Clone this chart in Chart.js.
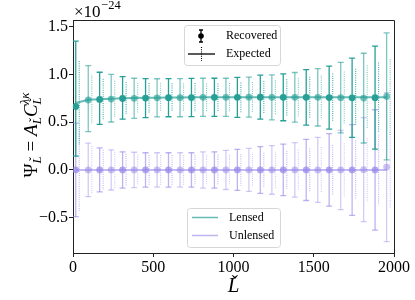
<!DOCTYPE html>
<html>
<head>
<meta charset="utf-8">
<script src="https://cdn.jsdelivr.net/npm/chart.js@4.4.1/dist/chart.umd.min.js"></script>
<style>
html,body{margin:0;padding:0;background:#fff;}
#wrap{width:415px;height:300px;position:relative;}
</style>
</head>
<body>
<div id="wrap"><canvas id="c" width="415" height="300"></canvas></div>
<script>
// ---- data (values in units of 1e-24) ----
const Lbins = [17, 95, 166, 238, 309, 381, 452, 524, 595, 667, 738, 810, 881, 953, 1024, 1096, 1167, 1239, 1310, 1382, 1453, 1525, 1596, 1668, 1739, 1811, 1882, 1954];
const lensedRecovered = [0.664, 0.732, 0.738, 0.742, 0.748, 0.750, 0.752, 0.755, 0.757, 0.757, 0.758, 0.760, 0.760, 0.760, 0.760, 0.762, 0.762, 0.760, 0.760, 0.760, 0.760, 0.760, 0.758, 0.757, 0.755, 0.752, 0.757, 0.770];
const lensedErrUp   = [0.684, 0.36, 0.285, 0.258, 0.228, 0.21, 0.205, 0.20, 0.20, 0.20, 0.20, 0.20, 0.20, 0.20, 0.21, 0.21, 0.23, 0.235, 0.245, 0.26, 0.29, 0.30, 0.33, 0.37, 0.415, 0.47, 0.54, 0.665];
const lensedErrDown = [0.52, 0.33, 0.26, 0.24, 0.215, 0.21, 0.205, 0.20, 0.20, 0.20, 0.20, 0.20, 0.20, 0.20, 0.21, 0.21, 0.23, 0.235, 0.245, 0.26, 0.29, 0.30, 0.33, 0.37, 0.415, 0.47, 0.54, 0.665];
const unlensedRecovered = [0.0, 0.0, 0.0, 0.0, 0.0, 0.0, 0.0, 0.0, 0.0, 0.0, 0.0, 0.0, 0.0, 0.0, 0.0, 0.0, 0.0, 0.0, 0.0, 0.0, 0.0, 0.0, 0.0, 0.0, 0.0, 0.003, 0.0, 0.03];
const unlensedErr = [0.49, 0.28, 0.23, 0.21, 0.19, 0.185, 0.18, 0.18, 0.18, 0.18, 0.18, 0.19, 0.19, 0.205, 0.215, 0.225, 0.245, 0.255, 0.27, 0.285, 0.32, 0.34, 0.38, 0.415, 0.475, 0.545, 0.63, 0.78];
const lensedExpected = [0.70, 0.735, 0.74, 0.745, 0.75, 0.752, 0.755, 0.757, 0.758, 0.758, 0.76, 0.76, 0.76, 0.76, 0.76, 0.76, 0.76, 0.76, 0.76, 0.76, 0.76, 0.76, 0.76, 0.76, 0.76, 0.76, 0.76, 0.76];
const lensedExpErr = [0.44, 0.255, 0.215, 0.19, 0.17, 0.16, 0.155, 0.15, 0.15, 0.15, 0.15, 0.145, 0.145, 0.15, 0.155, 0.16, 0.17, 0.18, 0.19, 0.20, 0.215, 0.23, 0.25, 0.27, 0.30, 0.335, 0.365, 0.40];
const unlensedExpected = [0, 0, 0, 0, 0, 0, 0, 0, 0, 0, 0, 0, 0, 0, 0, 0, 0, 0, 0, 0, 0, 0, 0, 0, 0, 0, 0, 0];
const unlensedExpErr = [0.43, 0.25, 0.21, 0.19, 0.17, 0.16, 0.155, 0.155, 0.155, 0.155, 0.16, 0.16, 0.16, 0.16, 0.165, 0.17, 0.18, 0.19, 0.20, 0.21, 0.225, 0.24, 0.26, 0.28, 0.31, 0.335, 0.37, 0.40];
const yTicks = [-0.5, 0.0, 0.5, 1.0, 1.5];
const xTicks = [0, 500, 1000, 1500, 2000];
const expOffset = 22; // horizontal offset of expected error bars in L units

const TEAL = [38,160,150];
const LAV = [150,132,232];
const rgba = (c,a) => `rgba(${c[0]},${c[1]},${c[2]},${a})`;
const alt = (c, aDark, aLight) => Lbins.map((_, i) => rgba(c, i % 2 === 0 ? aDark : aLight));

const SERIF = '"Liberation Serif", "DejaVu Serif", serif';

// draws an italic L with a check (caron) above, left-aligned at x, baseline y; returns width
function checkL(ctx, x, y, size) {
  ctx.save();
  ctx.textAlign = 'left';
  ctx.textBaseline = 'alphabetic';
  ctx.font = `italic ${size}px ${SERIF}`;
  const w = ctx.measureText('L').width;
  ctx.fillText('L', x, y);
  ctx.font = `${size * 0.9}px ${SERIF}`;
  const cw = ctx.measureText('ˇ').width;
  ctx.fillText('ˇ', x + w * 0.52 - cw / 2 + size * 0.06, y - size * 0.2);
  ctx.restore();
  return w;
}

function errorBarsPlugin() {
  return {
    id: 'errbars',
    beforeDatasetsDraw(chart) {
      const ctx = chart.ctx, xs = chart.scales.x, ys = chart.scales.y;
      const area = chart.chartArea;
      ctx.save();
      ctx.beginPath();
      ctx.rect(area.left, area.top, area.right - area.left, area.bottom - area.top);
      ctx.clip();
      const drawSet = (vals, up, down, col, aDark, aLight, dotted, off) => {
        for (let i = 0; i < Lbins.length; i++) {
          const x = xs.getPixelForValue(Lbins[i] + off);
          const yT = ys.getPixelForValue(vals[i] + up[i]);
          const yB = ys.getPixelForValue(vals[i] - down[i]);
          ctx.strokeStyle = rgba(col, i % 2 === 0 ? aDark : aLight);
          ctx.lineWidth = dotted ? 1.1 : 1.3;
          ctx.setLineDash(dotted ? [1, 1.2] : []);
          ctx.beginPath();
          ctx.moveTo(x, yT); ctx.lineTo(x, yB);
          ctx.stroke();
          if (!dotted) {
            ctx.setLineDash([]);
            ctx.beginPath();
            ctx.moveTo(x - 3, yT); ctx.lineTo(x + 3, yT);
            ctx.moveTo(x - 3, yB); ctx.lineTo(x + 3, yB);
            ctx.stroke();
          }
        }
      };
      // unlensed first, lensed on top
      drawSet(unlensedExpected, unlensedExpErr, unlensedExpErr, LAV, 0.6, 0.45, true, expOffset);
      drawSet(unlensedRecovered, unlensedErr, unlensedErr, LAV, 0.62, 0.42, false, 0);
      drawSet(lensedExpected, lensedExpErr, lensedExpErr, TEAL, 0.85, 0.6, true, expOffset);
      drawSet(lensedRecovered, lensedErrUp, lensedErrDown, TEAL, 1.0, 0.6, false, 0);
      ctx.restore();
    },
    afterDraw(chart) {
      const ctx = chart.ctx, a = chart.chartArea;
      ctx.save();
      // frame top/right
      ctx.strokeStyle = '#222';
      ctx.lineWidth = 1;
      ctx.beginPath();
      ctx.moveTo(a.left, a.top + 0.5); ctx.lineTo(a.right + 0.5, a.top + 0.5); ctx.lineTo(a.right + 0.5, a.bottom);
      ctx.stroke();

      // offset text ×10^-24
      ctx.fillStyle = '#000';
      ctx.textBaseline = 'alphabetic';
      ctx.textAlign = 'left';
      ctx.font = `17px ${SERIF}`;
      ctx.fillText('×10', 74, 17);
      const w10 = ctx.measureText('×10').width;
      ctx.font = `12.5px ${SERIF}`;
      ctx.fillText('−24', 74 + w10 + 0.5, 9);

      // x label
      const xs = 21;
      ctx.font = `italic ${xs}px ${SERIF}`;
      const wl = ctx.measureText('L').width;
      checkL(ctx, (a.left + a.right) / 2 - wl / 2, 292, xs);

      // y label (rotated)
      ctx.save();
      ctx.translate(37, 135);
      ctx.rotate(-Math.PI / 2);
      const big = 19, small = 13;
      const pieces = [
        {t: 'Ψ', f: `${big}px ${SERIF}`, dy: 0},
        {L: true, dy: 4},
        {t: ' = ', f: `${big}px ${SERIF}`, dy: 0},
        {t: 'A', f: `italic ${big}px ${SERIF}`, dy: 0},
        {L: true, dy: 4},
        {t: 'C', f: `italic ${big}px ${SERIF}`, dy: 0},
        {t: 'λκ', f: `italic ${small}px ${SERIF}`, dy: -8, stackL: 4}
      ];
      let total = 0;
      pieces.forEach(p => {
        ctx.font = p.L ? `italic ${small}px ${SERIF}` : p.f;
        p.w = ctx.measureText(p.L ? 'L' : p.t).width;
        if (p.stackL) { ctx.font = `italic ${small}px ${SERIF}`; p.w = Math.max(p.w, ctx.measureText('L').width); }
        total += p.w;
      });
      let x = -total / 2;
      ctx.textAlign = 'left';
      pieces.forEach(p => {
        if (p.L) {
          checkL(ctx, x, p.dy, small);
        } else {
          ctx.font = p.f;
          ctx.fillText(p.t, x, p.dy);
          if (p.stackL) checkL(ctx, x, p.stackL, small);
        }
        x += p.w;
      });
      ctx.restore();

      // legends
      const box = (x0, y0, w, h) => {
        ctx.save();
        ctx.fillStyle = 'rgba(255,255,255,0.85)';
        ctx.strokeStyle = '#d6d6d6';
        ctx.lineWidth = 1;
        ctx.beginPath();
        ctx.roundRect(x0 + 0.5, y0 + 0.5, w, h, 3);
        ctx.fill();
        ctx.stroke();
        ctx.restore();
      };
      ctx.font = `12px ${SERIF}`;
      ctx.textAlign = 'left';
      ctx.textBaseline = 'middle';
      // Legend 1
      box(184, 25, 96, 40);
      ctx.strokeStyle = '#000';
      ctx.fillStyle = '#000';
      ctx.lineWidth = 1.3;
      ctx.setLineDash([]);
      ctx.beginPath();
      ctx.moveTo(201, 30); ctx.lineTo(201, 42);
      ctx.moveTo(199, 30); ctx.lineTo(203, 30);
      ctx.moveTo(199, 42); ctx.lineTo(203, 42);
      ctx.stroke();
      ctx.beginPath(); ctx.arc(201, 36, 2.8, 0, Math.PI * 2); ctx.fill();
      ctx.fillText('Recovered', 226, 36);
      ctx.beginPath();
      ctx.moveTo(188, 54); ctx.lineTo(215, 54);
      ctx.stroke();
      ctx.lineWidth = 1.1;
      ctx.setLineDash([1, 1.2]);
      ctx.beginPath();
      ctx.moveTo(201.5, 47); ctx.lineTo(201.5, 61);
      ctx.stroke();
      ctx.setLineDash([]);
      ctx.fillText('Expected', 226, 54);
      // Legend 2
      box(187, 208, 93, 39);
      ctx.lineWidth = 1.5;
      ctx.strokeStyle = rgba(TEAL, 0.7);
      ctx.beginPath(); ctx.moveTo(192, 217.5); ctx.lineTo(218, 217.5); ctx.stroke();
      ctx.strokeStyle = rgba(LAV, 0.6);
      ctx.beginPath(); ctx.moveTo(192, 235.5); ctx.lineTo(218, 235.5); ctx.stroke();
      ctx.fillStyle = '#000';
      ctx.fillText('Lensed', 229, 218);
      ctx.fillText('Unlensed', 229, 236);
      ctx.restore();
    }
  };
}

const toXY = (ys) => Lbins.map((x, i) => ({x, y: ys[i]}));

new Chart(document.getElementById('c'), {
  type: 'scatter',
  data: {
    datasets: [
      { label: 'Lensed recovered', data: toXY(lensedRecovered), pointRadius: 3.4, pointBackgroundColor: alt(TEAL, 1.0, 0.65), pointBorderWidth: 0, showLine: false },
      { label: 'Unlensed recovered', data: toXY(unlensedRecovered), pointRadius: 3.4, pointBackgroundColor: alt(LAV, 0.7, 0.5), pointBorderWidth: 0, showLine: false },
      { label: 'Lensed expected', type: 'line', data: toXY(lensedExpected), borderColor: rgba(TEAL, 0.7), borderWidth: 2, pointRadius: 0, fill: false, tension: 0 },
      { label: 'Unlensed expected', type: 'line', data: toXY(unlensedExpected), borderColor: rgba(LAV, 0.55), borderWidth: 2, pointRadius: 0, fill: false, tension: 0 }
    ]
  },
  options: {
    responsive: false,
    animation: false,
    devicePixelRatio: 1,
    layout: { padding: { left: 0, top: 20, right: 21, bottom: 0 } },
    plugins: { legend: { display: false }, tooltip: { enabled: false } },
    scales: {
      x: {
        type: 'linear', min: 0, max: 2000,
        afterBuildTicks: (s) => { s.ticks = xTicks.map(v => ({value: v})); },
        afterFit: (s) => { s.height = 47; },
        grid: { drawOnChartArea: false, drawTicks: true, tickLength: 4, color: '#222', lineWidth: 1 },
        border: { display: true, color: '#222', width: 1 },
        ticks: { color: '#000', font: { family: SERIF, size: 16 }, padding: 1, maxRotation: 0, callback: (v) => String(v) }
      },
      y: {
        type: 'linear', min: -0.87, max: 1.57,
        afterBuildTicks: (s) => { s.ticks = yTicks.map(v => ({value: v})); },
        afterFit: (s) => { s.width = 73; },
        grid: { drawOnChartArea: false, drawTicks: true, tickLength: 4, color: '#222', lineWidth: 1 },
        border: { display: true, color: '#222', width: 1 },
        ticks: { color: '#000', font: { family: SERIF, size: 16 }, padding: 1, callback: (v) => (v < 0 ? '−' : '') + Math.abs(v).toFixed(1) }
      }
    }
  },
  plugins: [errorBarsPlugin()]
});
</script>
</body>
</html>
